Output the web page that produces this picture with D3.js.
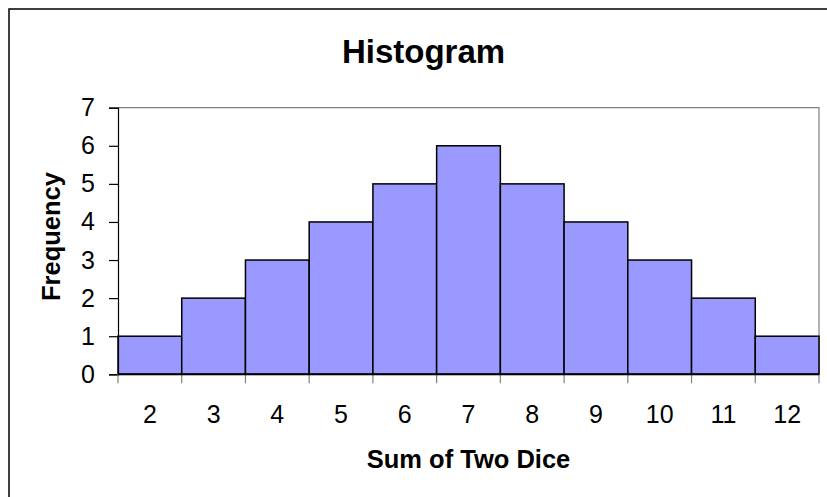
<!DOCTYPE html>
<html>
<head>
<meta charset="utf-8">
<script src="https://cdn.jsdelivr.net/npm/d3@7"></script>
<style>
  html, body { margin: 0; padding: 0; background: #fff; }
  svg text { font-family: "Liberation Sans", Arial, sans-serif; fill: #000; }
</style>
</head>
<body>
<div id="chart"></div>
<script>
// Data
var sums = [2, 3, 4, 5, 6, 7, 8, 9, 10, 11, 12];
var frequency = [1, 2, 3, 4, 5, 6, 5, 4, 3, 2, 1];
var yTicks = [0, 1, 2, 3, 4, 5, 6, 7];

var width = 827, height = 497;
var plot = { left: 118, right: 819, top: 107.7, bottom: 374.3 };

var svg = d3.select("#chart")
  .append("svg")
  .attr("width", width)
  .attr("height", height);

// Outer chart border (continues past the cropped edges)
svg.append("rect")
  .attr("x", 9)
  .attr("y", 9)
  .attr("width", 840)
  .attr("height", 520)
  .attr("fill", "#fff")
  .attr("stroke", "#000")
  .attr("stroke-width", 1.5);

var x = d3.scaleBand()
  .domain(sums)
  .range([plot.left, plot.right])
  .padding(0);

var y = d3.scaleLinear()
  .domain([0, 7])
  .range([plot.bottom, plot.top]);

// Plot area frame (grey top/right)
svg.append("path")
  .attr("d", "M" + plot.left + "," + plot.top + "H" + plot.right + "V" + plot.bottom)
  .attr("fill", "none")
  .attr("stroke", "#808080")
  .attr("stroke-width", 1.2);

// Bars
svg.selectAll(".bar")
  .data(sums)
  .join("rect")
  .attr("class", "bar")
  .attr("x", function (d) { return x(d); })
  .attr("y", function (d, i) { return y(frequency[i]); })
  .attr("width", x.bandwidth())
  .attr("height", function (d, i) { return y(0) - y(frequency[i]); })
  .attr("fill", "#9999FF")
  .attr("stroke", "#000")
  .attr("stroke-width", 1.5);

// Y axis
svg.append("g")
  .attr("transform", "translate(" + plot.left + ",0)")
  .call(d3.axisLeft(y).tickValues(yTicks).tickSize(9).tickPadding(14).tickFormat(d3.format("d")))
  .call(function (g) {
    g.select(".domain").attr("stroke", "#000").attr("stroke-width", 1.2);
    g.selectAll(".tick line").attr("stroke", "#000").attr("stroke-width", 1.2);
    g.selectAll("text").attr("font-size", 25).attr("fill", "#000")
      .attr("font-family", "Liberation Sans, Arial, sans-serif");
  });

// X axis: boundary ticks between bins
var edges = sums.map(function (d) { return x(d); }).concat([x.range()[1]]);
svg.append("g")
  .selectAll("line")
  .data(edges)
  .join("line")
  .attr("x1", function (d) { return d; })
  .attr("x2", function (d) { return d; })
  .attr("y1", plot.bottom)
  .attr("y2", plot.bottom + 9)
  .attr("stroke", "#808080")
  .attr("stroke-width", 1.2);

svg.append("g")
  .attr("transform", "translate(0," + plot.bottom + ")")
  .call(d3.axisBottom(x).tickSize(0).tickPadding(31))
  .call(function (g) {
    g.select(".domain").remove();
    g.selectAll("text").attr("font-size", 25).attr("fill", "#000")
      .attr("font-family", "Liberation Sans, Arial, sans-serif");
  });

// Baseline
svg.append("line")
  .attr("x1", plot.left)
  .attr("x2", plot.right)
  .attr("y1", y(0))
  .attr("y2", y(0))
  .attr("stroke", "#000")
  .attr("stroke-width", 2);

// Titles
svg.append("text")
  .attr("x", 423.5)
  .attr("y", 62.5)
  .attr("text-anchor", "middle")
  .attr("font-size", 33)
  .attr("font-weight", "bold")
  .text("Histogram");

svg.append("text")
  .attr("x", (plot.left + plot.right) / 2)
  .attr("y", 467.5)
  .attr("text-anchor", "middle")
  .attr("font-size", 25.5)
  .attr("font-weight", "bold")
  .text("Sum of Two Dice");

svg.append("text")
  .attr("transform", "translate(59.5,236.5) rotate(-90)")
  .attr("text-anchor", "middle")
  .attr("font-size", 25.5)
  .attr("font-weight", "bold")
  .text("Frequency");
</script>
</body>
</html>
